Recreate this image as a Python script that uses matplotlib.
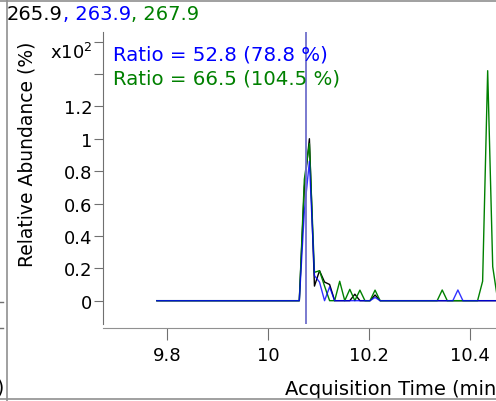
import matplotlib

matplotlib.use("Agg")

import matplotlib.pyplot as plt
from matplotlib.lines import Line2D

# retention times (min) of the sampled points
times = [9.780, 10.062, 10.072, 10.082, 10.092, 10.102, 10.112, 10.122, 10.132,
         10.142, 10.152, 10.162, 10.172, 10.182, 10.192, 10.202, 10.212, 10.222,
         10.335, 10.345, 10.355, 10.366, 10.376, 10.386, 10.415, 10.425, 10.435,
         10.445, 10.455, 10.465]

# relative abundance (x10^2 %) per ion
ion_265 = [0, 0, 0.70, 1.00, 0.09, 0.185, 0.115, 0.10, 0,
           0, 0, 0, 0.04, 0, 0, 0, 0.035, 0,
           0, 0, 0, 0, 0, 0, 0, 0, 0,
           0, 0, 0]
ion_263 = [0, 0, 0.55, 0.86, 0.155, 0.115, 0, 0.085, 0,
           0, 0, 0, 0, 0, 0, 0, 0.02, 0,
           0, 0, 0, 0, 0.066, 0, 0, 0, 0,
           0, 0, 0]
ion_267 = [0, 0, 0.75, 0.97, 0.175, 0.185, 0.09, 0, 0,
           0.12, 0, 0.07, 0, 0.065, 0, 0, 0.065, 0,
           0, 0.066, 0, 0, 0, 0, 0, 0.12, 1.42,
           0.21, 0, 0]

marker_time = 10.0746
ratio_texts = ["Ratio = 52.8 (78.8 %)", "Ratio = 66.5 (104.5 %)"]
title_parts = [("265.9", "black"), (", 263.9", "#0000ff"), (", 267.9", "#008000")]
y_ticks = [0, 0.2, 0.4, 0.6, 0.8, 1, 1.2, 1.4, 1.6]
y_tick_labels = ["0", "0.2", "0.4", "0.6", "0.8", "1", "1.2", "", "x10$^{2}$"]
x_ticks = [9.8, 10, 10.2, 10.4]
x_tick_labels = ["9.8", "10", "10.2", "10.4"]

W, H = 496, 402
fig = plt.figure(figsize=(W / 100, H / 100), dpi=100)
plt.rcParams["font.family"] = ["DejaVu Sans"]

# axes runs off the right edge of the picture (cropped view)
ax_w, ax_h = 468, 292
ax = fig.add_axes([103 / W, 1 - 325 / H, ax_w / W, ax_h / H])
ax.set_xlim(9.6733, 10.6)
ax.set_ylim(-0.144, 1.659)

ax.plot(times, ion_265, color="black", lw=1.0)
ax.plot(times, ion_267, color="#008000", lw=1.0)
ax.plot(times, ion_263, color="#0000ff", lw=1.0, alpha=0.8)
ax.axvline(marker_time, color="#7070cc", lw=1.3)

for side in ["top", "right"]:
    ax.spines[side].set_visible(False)
ax.spines["left"].set_color("#707070")
ax.spines["bottom"].set_color("#909090")
ax.spines["bottom"].set_position(("outward", 3))

ax.set_yticks(y_ticks)
ax.set_yticklabels(y_tick_labels)
ax.set_xticks(x_ticks)
ax.set_xticklabels(x_tick_labels)
ax.tick_params(axis="y", length=6.5, pad=1, labelsize=13, color="#707070")
ax.tick_params(axis="x", length=8.6, pad=4, labelsize=13, color="#707070")
ax.get_yticklabels()[-1].set_va("top")

ax.set_ylabel("Relative Abundance (%)", fontsize=13.5)
ax.yaxis.set_label_coords((37 - 103) / ax_w, (325 - 154) / ax_h)
ax.set_xlabel("Acquisition Time (min)", fontsize=14, ha="left")
ax.xaxis.set_label_coords((285 - 103) / ax_w, -0.19)

# ratio annotations
ax.text(113 / W, 1 - 55 / H, ratio_texts[0], transform=fig.transFigure,
        color="#0000ff", fontsize=14.2, va="center")
ax.text(113 / W, 1 - 79 / H, ratio_texts[1], transform=fig.transFigure,
        color="#008000", fontsize=14.2, va="center")

# title in three colours
x_px = 7
for txt, col in title_parts:
    t = fig.text(x_px / W, 1 - 15 / H, txt, color=col, fontsize=14, va="center")
    fig.canvas.draw()
    x_px += t.get_window_extent().width

# frame remnants of the neighbouring panel
grey = "#909090"
fig.add_artist(Line2D([7 / W, 7 / W], [0, 1], color=grey, lw=1.2, transform=fig.transFigure))
fig.add_artist(Line2D([0, 1], [1 - 2 / H, 1 - 2 / H], color=grey, lw=1.2, transform=fig.transFigure))
fig.add_artist(Line2D([0, 1], [1 - 400 / H, 1 - 400 / H], color=grey, lw=1.2, transform=fig.transFigure))
fig.add_artist(Line2D([0, 3 / W], [1 - 303 / H, 1 - 303 / H], color="#707070", lw=1, transform=fig.transFigure))
fig.add_artist(Line2D([0, 3 / W], [1 - 329 / H, 1 - 329 / H], color="#707070", lw=1, transform=fig.transFigure))
fig.text(4 / W, 1 - 388 / H, ")", fontsize=13.5, ha="right", va="center")

fig.savefig("out.png", dpi=100)
